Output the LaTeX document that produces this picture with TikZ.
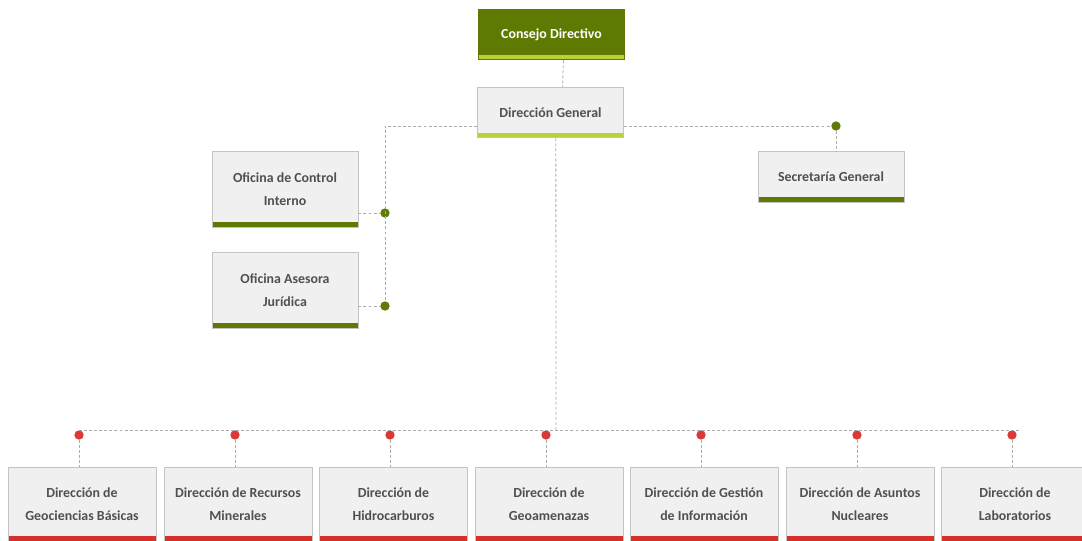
\documentclass[tikz,border=0pt]{standalone}
\usepackage{fontspec}
\setmainfont{Carlito}
\definecolor{darkgreen}{HTML}{5E7A02}
\definecolor{lightgreen}{HTML}{B9D336}
\definecolor{barred}{HTML}{D6302B}
\definecolor{dotred}{HTML}{D93A36}
\definecolor{dotgreen}{HTML}{5F7A08}
\definecolor{boxfill}{HTML}{F0F0F0}
\definecolor{boxline}{HTML}{C4C4C4}
\definecolor{textgray}{HTML}{505050}
\definecolor{linegray}{HTML}{ABABAB}
\begin{document}
\begin{tikzpicture}[x=0.75pt,y=-0.75pt,
  orgbox/.style={draw=boxline, fill=boxfill, line width=0.6pt, inner sep=0pt,
    minimum width=109.5pt, minimum height=38pt, align=center, text=textgray,
    font=\bfseries\fontsize{10.4}{17.3}\selectfont},
  bar/.style={path picture={\fill[#1] (path picture bounding box.south west)
    rectangle ([yshift=3.8pt]path picture bounding box.south east);}},
  conn/.style={draw=linegray, line width=0.6pt, dash pattern=on 2.2pt off 1.6pt},
  gdot/.style={circle, fill=dotgreen, inner sep=0pt, minimum size=7pt},
  rdot/.style={circle, fill=dotred, inner sep=0pt, minimum size=7pt}]
\useasboundingbox (0,0) rectangle (1082,540);

% top of the hierarchy
\node[orgbox, fill=darkgreen, draw=darkgreen, text=white, bar=lightgreen] (cd) at (551.5,34.5) {Consejo Directivo};
\node[orgbox, bar=lightgreen] (dg) at (550.5,112.5) {Dirección General};
\node[orgbox, bar=darkgreen] (sg) at (831,177) {Secretaría General};
\node[orgbox, minimum height=57pt, bar=darkgreen] (oci) at (285,189) {Oficina de Control\\Interno};
\node[orgbox, minimum height=56.5pt, bar=darkgreen] (oaj) at (285,290.5) {Oficina Asesora\\Jurídica};

% directorates
\foreach \i/\x/\t in {1/82/{Dirección de\\Geociencias Básicas},
                       2/238/{Dirección de Recursos\\Minerales},
                       3/393.5/{Dirección de\\Hidrocarburos},
                       4/549/{Dirección de\\Geoamenazas},
                       5/704/{Dirección de Gestión\\de Información},
                       6/860/{Dirección de Asuntos\\Nucleares},
                       7/1015/{Dirección de\\Laboratorios}}{
  \node[orgbox, minimum width=111pt, minimum height=55.5pt, bar=barred] (d\i) at (\x,504) {\t};
}

% junction points
\coordinate (jl) at (385,126);
\coordinate (jr) at (836,126);
\node[gdot] (goci) at (385,213) {};
\node[gdot] (goaj) at (385,306) {};
\node[gdot] (gsg) at (836,126) {};
\coordinate (jb) at (556,430);
\coordinate (bl) at (79,430);
\coordinate (br) at (1020,430);
\foreach \i/\x in {1/79,2/235,3/390,4/546,5/701,6/857,7/1012}{
  \node[rdot] (r\i) at (\x,435) {};
}

% connectors
\draw[conn] ([xshift=9pt]cd.south) -- ([xshift=9pt]dg.north);
\draw[conn] (dg.west |- jl) -- (jl) -- (goaj);
\draw[conn] (dg.east |- jr) -- (gsg);
\draw[conn] (gsg) -- (gsg |- sg.north);
\draw[conn] (oci.east |- goci) -- (goci);
\draw[conn] (oaj.east |- goaj) -- (goaj);
\draw[conn] ([xshift=4pt]dg.south) -- (jb);
\draw[conn] (bl) -- (br);
\foreach \i in {1,...,7}{
  \draw[conn] (r\i) -- (r\i |- d\i.north);
}
\end{tikzpicture}
\end{document}
